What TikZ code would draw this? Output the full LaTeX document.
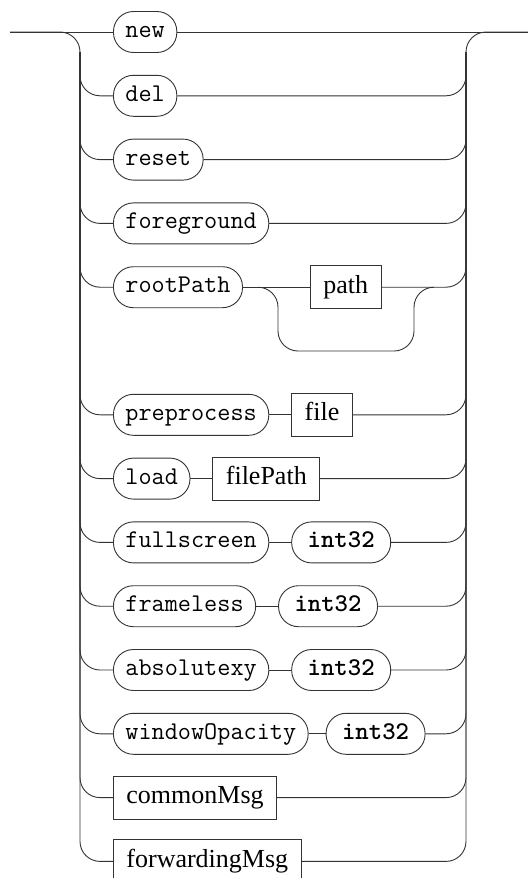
\documentclass[tikz,border=0pt]{standalone}
\usepackage{fontspec}
\setmainfont{Liberation Serif}
\usepackage{tikz}
\usetikzlibrary{positioning}
\definecolor{railc}{HTML}{333333}
\tikzset{
  term/.style={rectangle,draw=railc,line width=0.9pt,rounded corners=20pt,
    minimum height=41pt,inner xsep=12pt,inner ysep=0pt,
    text height=15pt,text depth=4pt,font=\fontsize{25.5}{28}\selectfont\ttfamily},
  bterm/.style={term,minimum width=99pt,
    font=\fontsize{25.5}{28}\selectfont\ttfamily\bfseries},
  nterm/.style={rectangle,draw=railc,line width=0.9pt,minimum height=43pt,
    inner xsep=13pt,inner ysep=0pt,text height=18pt,text depth=6pt,
    font=\fontsize{26}{30}\selectfont},
  rail/.style={draw=railc,line width=0.9pt,rounded corners=20pt},
}
\begin{document}
\begin{tikzpicture}[x=1pt,y=-1pt,node distance=22pt]
  \useasboundingbox (0,0) rectangle (529,878);
  % entry, exit and the two rails
  \coordinate (in) at (10,32);
  \coordinate (out) at (528,32);
  \coordinate (lt) at (80,52);
  \coordinate (rt) at (466,52);
  % one alternative per row
  \node[term,anchor=west] (new) at (113,32) {new};
  \node[term,anchor=west] (del) at (113,95.8) {del};
  \node[term,anchor=west] (reset) at (113,159.6) {reset};
  \node[term,anchor=west] (fg) at (113,223.4) {foreground};
  \node[term,anchor=west] (root) at (113,287.2) {rootPath};
  \node[nterm,right=67pt of root] (path) {path};
  \node[term,anchor=west] (prep) at (113,414.8) {preprocess};
  \node[nterm,right=of prep] (file) {file};
  \node[term,anchor=west] (load) at (113,478.6) {load};
  \node[nterm,right=of load] (fpath) {filePath};
  \node[term,anchor=west] (full) at (113,542.4) {fullscreen};
  \node[bterm,right=of full] (ifull) {int32};
  \node[term,anchor=west] (frame) at (113,606.2) {frameless};
  \node[bterm,right=of frame] (iframe) {int32};
  \node[term,anchor=west] (absxy) at (113,670) {absolutexy};
  \node[bterm,right=of absxy] (iabsxy) {int32};
  \node[term,anchor=west] (wop) at (113,733.8) {windowOpacity};
  \node[bterm,right=17pt of wop] (iwop) {int32};
  \node[nterm,anchor=west] (common) at (113,797.6) {commonMsg};
  \node[nterm,anchor=west] (fwd) at (113,861.4) {forwardingMsg};
  % main line and outer rails
  \draw[rail] (in) -- (new);
  \draw[rail] (new) -- (out);
  \draw[rail] (in) -| (lt |- fwd) -- (fwd);
  \draw[rail] (fwd) -| (rt |- out) -- (out);
  % branches in
  \draw[rail] (lt) |- (del);
  \draw[rail] (lt) |- (reset);
  \draw[rail] (lt) |- (fg);
  \draw[rail] (lt) |- (root);
  \draw[rail] (lt) |- (prep);
  \draw[rail] (lt) |- (load);
  \draw[rail] (lt) |- (full);
  \draw[rail] (lt) |- (frame);
  \draw[rail] (lt) |- (absxy);
  \draw[rail] (lt) |- (wop);
  \draw[rail] (lt) |- (common);
  % inside the rows
  \draw[rail] (root) -- (path);
  \draw[rail] (prep) -- (file);
  \draw[rail] (load) -- (fpath);
  \draw[rail] (full) -- (ifull);
  \draw[rail] (frame) -- (iframe);
  \draw[rail] (absxy) -- (iabsxy);
  \draw[rail] (wop) -- (iwop);
  % path is optional
  \coordinate (bya) at (258,287.2);
  \coordinate (byb) at (434,287.2);
  \draw[rail] (bya) -| (278,351) -| (414,287.2) -- (byb);
  % branches out
  \draw[rail] (del) -| (rt);
  \draw[rail] (reset) -| (rt);
  \draw[rail] (fg) -| (rt);
  \draw[rail] (path) -| (rt);
  \draw[rail] (file) -| (rt);
  \draw[rail] (fpath) -| (rt);
  \draw[rail] (ifull) -| (rt);
  \draw[rail] (iframe) -| (rt);
  \draw[rail] (iabsxy) -| (rt);
  \draw[rail] (iwop) -| (rt);
  \draw[rail] (common) -| (rt);
\end{tikzpicture}
\end{document}
